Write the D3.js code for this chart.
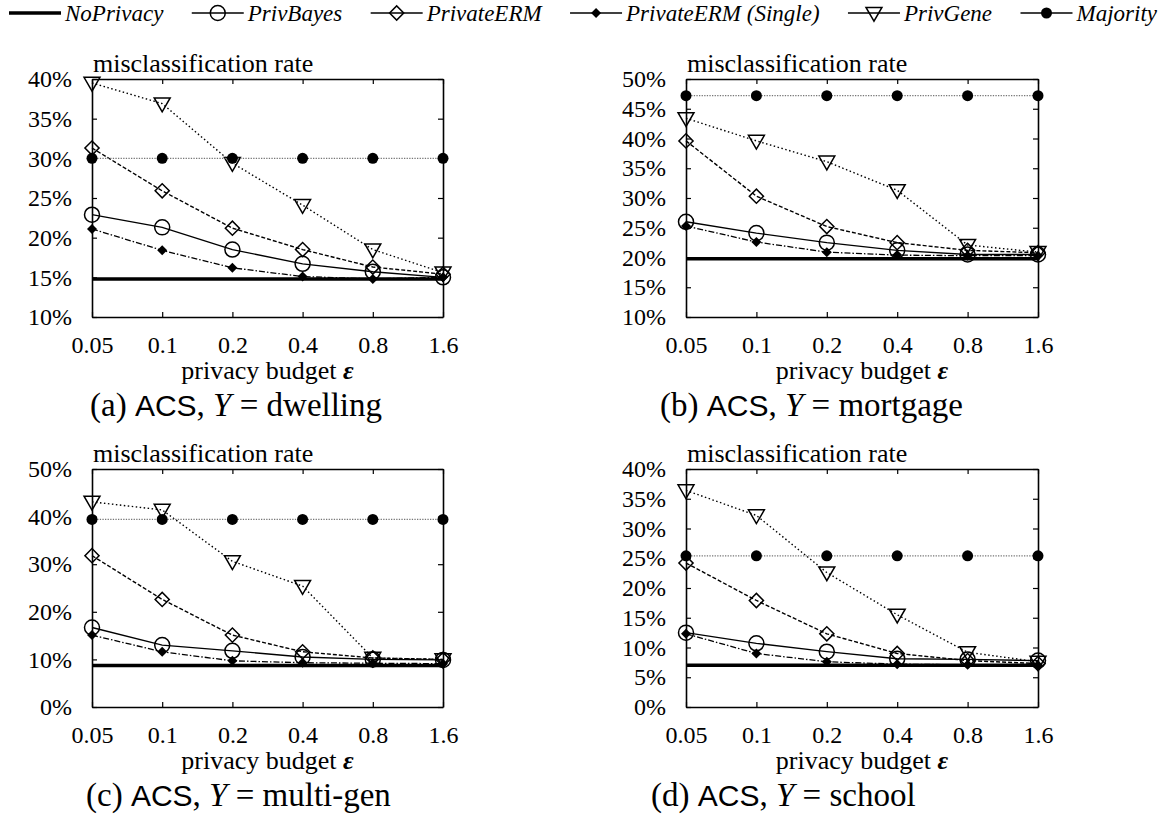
<!DOCTYPE html>
<html lang="en">
	<head>
		<meta charset="utf-8" />
		<title>ACS misclassification rate</title>
		<script type="text/javascript" src="https://cdn.jsdelivr.net/npm/d3@7/dist/d3.min.js"></script>
		<style type="text/css">
			body { margin: 0; background: #fff; }
			text { font-family: "Liberation Serif", "Times New Roman", serif; fill: #000; }
		</style>
	</head>
	<body>
		<script type="text/javascript">
			//x values (privacy budget)
			var budgets = [0.05, 0.1, 0.2, 0.4, 0.8, 1.6];
			var budgetLabels = ["0.05", "0.1", "0.2", "0.4", "0.8", "1.6"];
			var methods = ["NoPrivacy", "PrivBayes", "PrivateERM", "PrivateERM (Single)", "PrivGene", "Majority"];

			//rows follow the order of methods, values in %
			var dwelling = [
				[14.8, 14.8, 14.8, 14.8, 14.8, 14.8],
				[22.9, 21.3, 18.5, 16.7, 15.7, 15.0],
				[31.3, 25.9, 21.2, 18.5, 16.3, 15.4],
				[21.1, 18.4, 16.2, 15.1, 14.8, 15.0],
				[39.5, 36.9, 29.4, 24.1, 18.5, 15.6],
				[30.0, 30.0, 30.0, 30.0, 30.0, 30.0]
			];
			var mortgage = [
				[19.8, 19.8, 19.8, 19.8, 19.8, 19.8],
				[26.0, 24.1, 22.5, 21.2, 20.5, 20.5],
				[39.6, 30.3, 25.2, 22.5, 21.2, 20.8],
				[25.3, 22.6, 20.9, 20.4, 20.3, 20.3],
				[43.4, 39.6, 36.1, 31.3, 22.1, 20.9],
				[47.2, 47.2, 47.2, 47.2, 47.2, 47.2]
			];
			var multigen = [
				[8.7, 8.7, 8.7, 8.7, 8.7, 8.7],
				[16.7, 13.0, 11.8, 10.5, 10.0, 9.9],
				[31.8, 22.6, 15.1, 11.6, 10.3, 10.0],
				[15.1, 11.6, 9.7, 9.3, 9.2, 9.1],
				[43.1, 41.4, 30.6, 25.4, 10.3, 10.0],
				[39.4, 39.4, 39.4, 39.4, 39.4, 39.4]
			];
			var school = [
				[7.0, 7.0, 7.0, 7.0, 7.0, 7.0],
				[12.5, 10.7, 9.3, 8.1, 8.0, 7.8],
				[24.2, 17.9, 12.3, 9.0, 7.8, 7.3],
				[12.3, 9.0, 7.6, 7.2, 7.1, 7.0],
				[36.4, 32.2, 22.6, 15.5, 9.2, 7.6],
				[25.4, 25.4, 25.4, 25.4, 25.4, 25.4]
			];

			//y tick values per panel
			var ticksA = [10, 15, 20, 25, 30, 35, 40];
			var ticksB = [10, 15, 20, 25, 30, 35, 40, 45, 50];
			var ticksC = [0, 10, 20, 30, 40, 50];
			var ticksD = [0, 5, 10, 15, 20, 25, 30, 35, 40];

			var panels = [
				{ data: dwelling, ticks: ticksA, letter: "a", target: "dwelling", x0: 92, x1: 443, y0: 79, y1: 317, cap: 90 },
				{ data: mortgage, ticks: ticksB, letter: "b", target: "mortgage", x0: 686, x1: 1038, y0: 79, y1: 317, cap: 660 },
				{ data: multigen, ticks: ticksC, letter: "c", target: "multi-gen", x0: 92, x1: 443, y0: 469, y1: 707, cap: 86 },
				{ data: school, ticks: ticksD, letter: "d", target: "school", x0: 686, x1: 1038, y0: 469, y1: 707, cap: 651 }
			];

			//line style and symbol of each method
			var styles = [
				{ width: 3.5, dash: null, color: "#000", symbol: null },
				{ width: 1.4, dash: null, color: "#000", symbol: "circle" },
				{ width: 1.4, dash: "4,2", color: "#000", symbol: "diamond" },
				{ width: 1.3, dash: "6,2,1.5,2", color: "#000", symbol: "fdiamond" },
				{ width: 1.4, dash: "1.5,2.5", color: "#000", symbol: "triangle" },
				{ width: 1.3, dash: "1.3,1.3", color: "#777", symbol: "dot" }
			];

			var w = 1159;
			var h = 821;
			var serif = "'Liberation Serif', 'Times New Roman', serif";

			var svg = d3
				.select("body")
				.append("svg")
				.attr("width", w)
				.attr("height", h);

			function drawSymbol(g, kind, x, y) {
				if (kind == "circle") {
					g.append("circle").attr("cx", x).attr("cy", y).attr("r", 7.5)
						.attr("fill", "none").attr("stroke", "#000").attr("stroke-width", 1.5);
				} else if (kind == "diamond") {
					g.append("path").attr("d", d3.symbol().type(d3.symbolSquare).size(100)())
						.attr("transform", "translate(" + x + "," + y + ") rotate(45)")
						.attr("fill", "none").attr("stroke", "#000").attr("stroke-width", 1.5);
				} else if (kind == "fdiamond") {
					g.append("path").attr("d", d3.symbol().type(d3.symbolSquare).size(50)())
						.attr("transform", "translate(" + x + "," + y + ") rotate(45)")
						.attr("fill", "#000");
				} else if (kind == "triangle") {
					g.append("path").attr("d", d3.symbol().type(d3.symbolTriangle).size(110)())
						.attr("transform", "translate(" + x + "," + (y - 1) + ") rotate(180)")
						.attr("fill", "none").attr("stroke", "#000").attr("stroke-width", 1.5);
				} else if (kind == "dot") {
					g.append("circle").attr("cx", x).attr("cy", y).attr("r", 5.5).attr("fill", "#000");
				}
			}

			panels.forEach(function(p) {
				var xScale = d3
					.scaleLog()
					.base(2)
					.domain([budgets[0], budgets[budgets.length - 1]])
					.range([p.x0, p.x1]);
				var yScale = d3
					.scaleLinear()
					.domain([p.ticks[0], p.ticks[p.ticks.length - 1]])
					.range([p.y1, p.y0]);

				var g = svg.append("g");

				//frame with inward ticks on all sides
				var axes = [
					{ axis: d3.axisBottom(xScale), tr: "translate(0," + p.y1 + ")", labels: true },
					{ axis: d3.axisTop(xScale), tr: "translate(0," + p.y0 + ")", labels: false },
					{ axis: d3.axisLeft(yScale), tr: "translate(" + p.x0 + ",0)", labels: true },
					{ axis: d3.axisRight(yScale), tr: "translate(" + p.x1 + ",0)", labels: false }
				];
				axes.forEach(function(a, i) {
					var isX = i < 2;
					a.axis
						.tickSizeInner(-5)
						.tickSizeOuter(0)
						.tickPadding(isX ? 19 : 20);
					if (isX) {
						a.axis.tickValues(budgets).tickFormat(function(d, j) { return budgetLabels[j]; });
					} else {
						a.axis.tickValues(p.ticks).tickFormat(function(d) { return d + "%"; });
					}
					var ag = g.append("g").attr("transform", a.tr).call(a.axis)
						.attr("font-family", serif)
						.attr("font-size", 24);
					ag.select(".domain").attr("stroke-width", 1.6);
					ag.selectAll(".tick line").attr("stroke-width", 1.2);
					ag.selectAll(".tick text").attr("fill", "#000");
					if (!a.labels) ag.selectAll(".tick text").remove();
				});

				//series lines and symbols
				var line = d3
					.line()
					.x(function(d, i) { return xScale(budgets[i]); })
					.y(function(d) { return yScale(d); });

				p.data.forEach(function(values, k) {
					var s = styles[k];
					g.append("path")
						.datum(values)
						.attr("d", line)
						.attr("fill", "none")
						.attr("stroke", s.color)
						.attr("stroke-width", s.width)
						.attr("stroke-dasharray", s.dash);
					if (s.symbol) {
						values.forEach(function(v, i) {
							drawSymbol(g, s.symbol, xScale(budgets[i]), yScale(v));
						});
					}
				});

				//axis titles
				g.append("text")
					.attr("x", p.x0 + 1)
					.attr("y", p.y0 - 7)
					.style("font-size", "26px")
					.text("misclassification rate");

				var xt = g.append("text")
					.attr("x", (p.x0 + p.x1) / 2)
					.attr("y", p.y1 + 62)
					.attr("text-anchor", "middle")
					.style("font-size", "26px");
				xt.append("tspan").text("privacy budget ");
				xt.append("tspan").style("font-style", "italic").style("font-weight", "bold").text("ε");

				//caption
				var cap = g.append("text")
					.attr("x", p.cap)
					.attr("y", p.y1 + 99)
					.style("font-size", "33px");
				cap.append("tspan").text("(" + p.letter + ") ");
				cap.append("tspan").style("font-family", "'Liberation Sans', sans-serif").style("font-size", "30px").text("ACS");
				cap.append("tspan").text(", ");
				cap.append("tspan").style("font-style", "italic").text("Y");
				cap.append("tspan").text(" = " + p.target);
			});

			//legend along the top, spread over the full width
			var legend = svg.append("g");
			var lineLen = 52;
			var pad = 4;
			var items = methods.map(function(m, k) {
				var t = legend.append("text")
					.attr("y", 21)
					.style("font-size", "23px")
					.style("font-style", "italic")
					.text(m);
				return { text: t, len: t.node().getComputedTextLength() };
			});
			var used = d3.sum(items, function(d) { return d.len + lineLen + pad; });
			var lx = 9;
			var gap = (w - 2 - lx - used) / (items.length - 1);
			items.forEach(function(it, k) {
				var s = styles[k];
				legend.append("line")
					.attr("x1", lx).attr("x2", lx + lineLen)
					.attr("y1", 13).attr("y2", 13)
					.attr("stroke", "#000")
					.attr("stroke-width", k == 0 ? 3.5 : 1.4);
				if (s.symbol) drawSymbol(legend, s.symbol, lx + lineLen / 2, 13);
				it.text.attr("x", lx + lineLen + pad);
				lx += lineLen + pad + it.len + gap;
			});
		</script>
	</body>
</html>
